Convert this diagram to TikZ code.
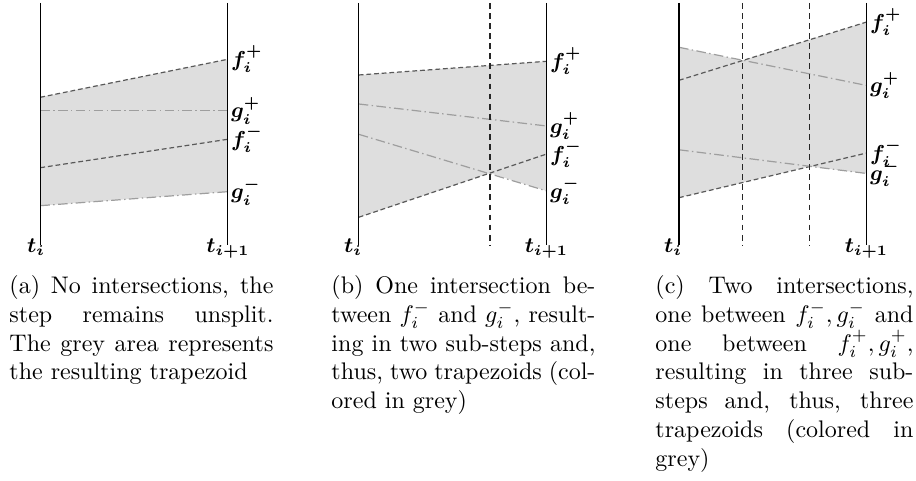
\documentclass[tikz,border=0pt]{standalone}
\begin{document}
\begin{tikzpicture}[x=0.4167pt,y=-0.4167pt,
  axis/.style={line width=0.5pt,black},
  fline/.style={line width=0.5pt,draw=black!65,dash pattern=on 2pt off 1.2pt},
  gline/.style={line width=0.5pt,draw=black!38,dash pattern=on 4pt off 1.4pt on 0.6pt off 1.4pt},
  splitline/.style={line width=0.5pt,draw=black!85,dash pattern=on 2.4pt off 1.8pt},
  area/.style={fill=black!13},
  lab/.style={font=\fontsize{9}{11}\selectfont\boldmath,inner sep=1.2pt,anchor=west},
  tlab/.style={font=\fontsize{9}{11}\selectfont\boldmath,inner sep=0pt,anchor=base},
  captext/.style={anchor=north west,inner sep=0pt,text width=110pt,align=justify,font=\fontsize{10}{12}\selectfont}]
\useasboundingbox (0,0) rectangle (916,481);

% ---------------- panel (a)
\coordinate (aLT) at (40.3,3);   \coordinate (aLB) at (40.3,245);
\coordinate (aRT) at (227.7,3);  \coordinate (aRB) at (227.7,245);
\coordinate (afpL) at (40.3,97.3);  \coordinate (afpR) at (227.7,59.3);
\coordinate (agpL) at (40.3,110.7); \coordinate (agpR) at (227.7,110.7);
\coordinate (afmL) at (40.3,167.7); \coordinate (afmR) at (227.7,139.3);
\coordinate (agmL) at (40.3,205.7); \coordinate (agmR) at (227.7,191.7);
\fill[area] (afpL) -- (afpR) -- (agmR) -- (agmL) -- cycle;
\draw[fline] (afpL) -- (afpR);
\draw[gline] (agpL) -- (agpR);
\draw[fline] (afmL) -- (afmR);
\draw[gline] (agmL) -- (agmR);
\draw[axis] (aLT) -- (aLB);
\draw[axis] (aRT) -- (aRB);
\node[lab] (afp) at (afpR) {$f_i^+$};
\node[lab] (agp) at (agpR) {$g_i^+$};
\node[lab] (afm) at (afmR) {$f_i^-$};
\node[lab] (agm) at (agmR) {$g_i^-$};
\node[tlab] (at1) at (36,253) {$t_i$};
\node[tlab] (at2) at (228,253) {$t_{i+1}$};
\node[captext] (capa) at (9,275) {(a) No intersections, the\linebreak step remains unsplit.\linebreak The grey area represents\linebreak the resulting trapezoid};

% ---------------- panel (b)
\coordinate (bLT) at (358.7,3);  \coordinate (bLB) at (358.7,245);
\coordinate (bRT) at (546.7,3);  \coordinate (bRB) at (546.7,245);
\coordinate (bST) at (490,3);    \coordinate (bSB) at (490,245);
\coordinate (bfpL) at (358.7,75);    \coordinate (bfpR) at (546.7,61.3);
\coordinate (bgpL) at (358.7,104);   \coordinate (bgpR) at (546.7,126);
\coordinate (bgmL) at (358.7,134.3); \coordinate (bgmR) at (546.7,191);
\coordinate (bfmL) at (358.7,217.3); \coordinate (bfmR) at (546.7,154);
\coordinate (bX) at (490,173.2);
\fill[area] (bfpL) -- (bfpR) -- (bgmR) -- (bX) -- (bfmL) -- cycle;
\draw[fline] (bfpL) -- (bfpR);
\draw[gline] (bgpL) -- (bgpR);
\draw[gline] (bgmL) -- (bgmR);
\draw[fline] (bfmL) -- (bfmR);
\draw[splitline] (bST) -- (bSB);
\draw[axis] (bLT) -- (bLB);
\draw[axis] (bRT) -- (bRB);
\node[lab] (bfp) at (bfpR) {$f_i^+$};
\node[lab] (bgp) at (bgpR) {$g_i^+$};
\node[lab] (bfm) at (bfmR) {$f_i^-$};
\node[lab] (bgm) at (bgmR) {$g_i^-$};
\node[tlab] (bt1) at (353,253) {$t_i$};
\node[tlab] (bt2) at (546.5,253) {$t_{i+1}$};
\node[captext] (capb) at (331,275) {(b) One intersection be-\linebreak tween $f_i^-$ and $g_i^-$, result-\linebreak ing in two sub-steps and,\linebreak thus, two trapezoids (col-\linebreak ored in grey)};

% ---------------- panel (c)
\coordinate (cLT) at (679,3);    \coordinate (cLB) at (679,245);
\coordinate (cRT) at (866.7,3);  \coordinate (cRB) at (866.7,245);
\coordinate (cS1T) at (742.3,3); \coordinate (cS1B) at (742.3,245);
\coordinate (cS2T) at (809.3,3); \coordinate (cS2B) at (809.3,245);
\coordinate (cfpL) at (679,80.3);  \coordinate (cfpR) at (866.7,22);
\coordinate (cgpL) at (679,47.3);  \coordinate (cgpR) at (866.7,85.5);
\coordinate (cfmL) at (679,197.7); \coordinate (cfmR) at (866.7,153);
\coordinate (cgmL) at (679,149.8); \coordinate (cgmR) at (866.7,173.5);
\coordinate (cX1) at (742.3,60.3);
\coordinate (cX2) at (809.3,166.5);
\fill[area] (cgpL) -- (cX1) -- (cfpR) -- (cgmR) -- (cX2) -- (cfmL) -- cycle;
\draw[fline] (cfpL) -- (cfpR);
\draw[gline] (cgpL) -- (cgpR);
\draw[fline] (cfmL) -- (cfmR);
\draw[gline] (cgmL) -- (cgmR);
\draw[splitline] (cS1T) -- (cS1B);
\draw[splitline] (cS2T) -- (cS2B);
\draw[axis] (cLT) -- (cLB);
\draw[axis] (cRT) -- (cRB);
\node[lab] (cfp) at (cfpR) {$f_i^+$};
\node[lab] (cgp) at (cgpR) {$g_i^+$};
\node[lab] (cfm) at (cfmR) {$f_i^-$};
\node[lab] (cgm) at (cgmR) {$g_i^-$};
\node[tlab] (ct1) at (673,253) {$t_i$};
\node[tlab] (ct2) at (866.5,253) {$t_{i+1}$};
\node[captext,text width=107.5pt] (capc) at (655,275) {(c) Two intersections,\linebreak one between $f_i^-,g_i^-$ and\linebreak one between $f_i^+,g_i^+$,\linebreak resulting in three sub-\linebreak steps and, thus, three\linebreak trapezoids (colored in\linebreak grey)};
\end{tikzpicture}
\end{document}
